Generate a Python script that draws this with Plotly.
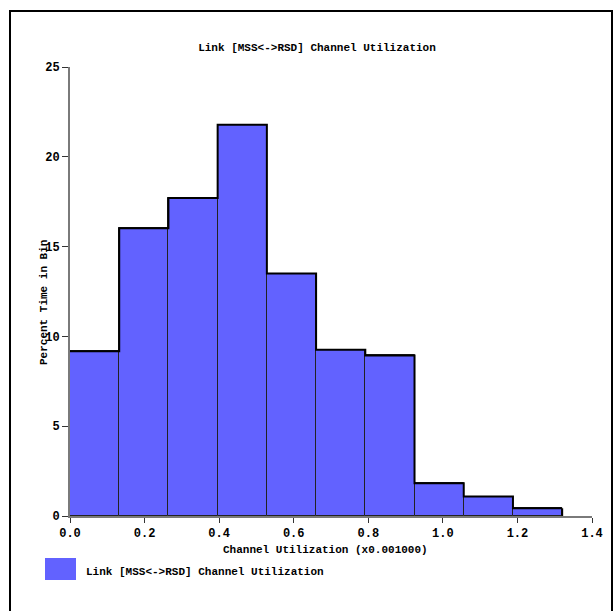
import plotly.graph_objects as go

# ---- data ----
bin_edges = [0.0, 0.132, 0.264, 0.396, 0.528, 0.660, 0.792, 0.924, 1.056, 1.188, 1.320]
percent_in_bin = [9.17, 16.02, 17.70, 21.78, 13.50, 9.26, 8.94, 1.82, 1.08, 0.43]
series_name = "Link [MSS<->RSD] Channel Utilization"
chart_title = "Link [MSS<->RSD] Channel Utilization"
x_title = "Channel Utilization (x0.001000)"
y_title = "Percent Time in Bin"
x_ticks = [0.0, 0.2, 0.4, 0.6, 0.8, 1.0, 1.2, 1.4]
y_ticks = [0, 5, 10, 15, 20, 25]

W, H = 615, 611
L, R, T, B = 70, 23, 67, 95
PW, PH = W - L - R, H - T - B

def px(xp):
    return (xp - L) / PW

def py(yp):
    return (H - B - yp) / PH

FONT = "Liberation Mono, Courier New, monospace"
BAR_COLOR = "#6262ff"

def f(size):
    return dict(family=FONT, size=size, color="black", weight="bold")

centers = [(a + b) / 2 for a, b in zip(bin_edges[:-1], bin_edges[1:])]
widths = [b - a for a, b in zip(bin_edges[:-1], bin_edges[1:])]

fig = go.Figure()
fig.add_trace(go.Bar(
    x=centers, y=percent_in_bin, width=widths,
    marker=dict(color=BAR_COLOR, line=dict(color="#222222", width=1)),
    name=series_name, showlegend=False,
))
fig.add_trace(go.Scatter(
    x=bin_edges, y=percent_in_bin + [percent_in_bin[-1]],
    mode="lines", line=dict(color="black", width=2, shape="hv"),
    showlegend=False, hoverinfo="skip",
))
# closing edge of the last bin
fig.add_trace(go.Scatter(
    x=[bin_edges[-1], bin_edges[-1]], y=[percent_in_bin[-1], 0],
    mode="lines", line=dict(color="black", width=2),
    showlegend=False, hoverinfo="skip",
))

fig.update_layout(
    width=W, height=H,
    margin=dict(l=L, r=R, t=T, b=B),
    paper_bgcolor="white", plot_bgcolor="white",
    font=f(11),
    title=dict(text=chart_title, x=(317) / W, xanchor="center",
               y=1 - 47 / H, yanchor="middle", yref="container",
               font=f(11)),
    bargap=0,
)
fig.update_xaxes(
    range=[0, 1.4], tickvals=x_ticks, ticktext=[f"{v:.1f}" for v in x_ticks],
    showgrid=False, zeroline=False, showline=True, linecolor="#7a7a7a", linewidth=2,
    ticks="outside", ticklen=5, tickcolor="#333333", tickwidth=1,
    tickfont=f(12),
)
fig.update_yaxes(
    range=[0, 25], tickvals=y_ticks,
    showgrid=False, zeroline=False, showline=True, linecolor="#7a7a7a", linewidth=2,
    ticks="outside", ticklen=6, tickcolor="#333333", tickwidth=1,
    tickfont=f(12),
)

fig.add_annotation(text=y_title, textangle=-90, xref="paper", yref="paper",
                   x=px(44), y=py(303), showarrow=False,
                   xanchor="center", yanchor="middle", font=f(11))
fig.add_annotation(text=x_title, xref="paper", yref="paper",
                   x=px(325), y=py(550), showarrow=False,
                   xanchor="center", yanchor="middle", font=f(11))

# legend
fig.add_shape(type="rect", xref="paper", yref="paper",
              x0=px(45), x1=px(76), y0=py(580), y1=py(558),
              fillcolor=BAR_COLOR, line=dict(width=0))
fig.add_annotation(text=series_name, xref="paper", yref="paper",
                   x=px(84), y=py(572), showarrow=False,
                   xanchor="left", yanchor="middle", font=f(11))

# outer frame
fig.add_shape(type="rect", xref="paper", yref="paper",
              x0=px(10), x1=px(612), y0=py(625), y1=py(11),
              fillcolor="rgba(0,0,0,0)", line=dict(color="black", width=2),
              layer="below")

fig.write_html("out.html")
